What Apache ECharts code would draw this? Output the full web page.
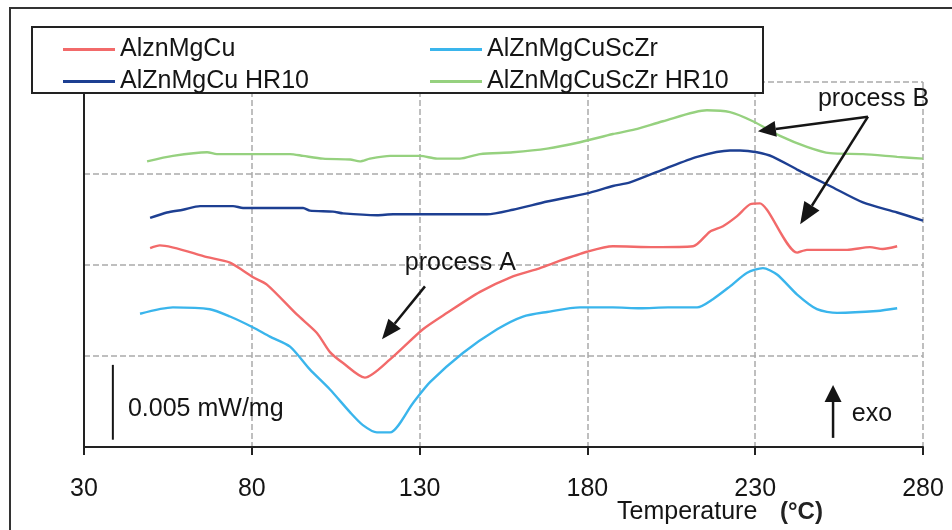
<!DOCTYPE html>
<html>
<head>
<meta charset="utf-8">
<script src="https://cdn.jsdelivr.net/npm/echarts@6/dist/echarts.min.js"></script>
<style>
  html, body { margin: 0; padding: 0; background: #fff; }
  #chart { width: 952px; height: 530px; }
</style>
</head>
<body>
<div id="chart"></div>
<script>
// axis
const xTicks = [30, 80, 130, 180, 230, 280];
const seriesNames = ['AlznMgCu', 'AlZnMgCuScZr', 'AlZnMgCu HR10', 'AlZnMgCuScZr HR10'];
const seriesColors = ['#f26a6a', '#3ab5ec', '#1d3f92', '#96d17f'];

// signals, in grid units (one dashed grid step = 1)
const tempRed = [49.7, 52.6, 66.7, 73.5, 80.4, 84.5, 93.5, 99.4, 103.3, 107.2, 113.7, 121.2, 131.0, 138.2, 148.0, 157.8, 165.0, 170.9, 179.9, 187.6, 200.0, 211.5, 216.5, 220.4, 224.6, 228.5, 231.4, 233.5, 242.5, 245.4, 257.4, 264.2, 268.0, 272.3];
const valRed  = [2.18, 2.21, 2.08, 2.02, 1.86, 1.78, 1.45, 1.25, 1.04, 0.92, 0.76, 0.96, 1.29, 1.47, 1.70, 1.87, 1.95, 2.03, 2.14, 2.20, 2.19, 2.20, 2.36, 2.42, 2.53, 2.66, 2.67, 2.60, 2.13, 2.16, 2.16, 2.19, 2.17, 2.20];

const tempBlue = [46.7, 56.5, 67.5, 73.5, 80.4, 85.4, 91.4, 97.3, 103.3, 109.3, 113.1, 117.3, 121.2, 128.0, 133.1, 142.9, 153.1, 160.8, 168.0, 177.8, 187.6, 195.7, 204.0, 212.7, 217.4, 222.5, 227.6, 232.3, 236.5, 242.5, 248.4, 254.4, 266.3, 272.3];
const valBlue  = [1.46, 1.53, 1.51, 1.43, 1.31, 1.21, 1.10, 0.85, 0.63, 0.38, 0.24, 0.16, 0.16, 0.48, 0.71, 1.03, 1.29, 1.43, 1.48, 1.53, 1.53, 1.52, 1.53, 1.53, 1.62, 1.76, 1.91, 1.96, 1.89, 1.67, 1.51, 1.47, 1.49, 1.52];

const tempNavy = [49.7, 54.7, 59.5, 64.6, 74.4, 77.4, 95.3, 97.3, 104.2, 107.2, 117.3, 122.1, 150.1, 157.8, 168.0, 179.9, 187.6, 192.7, 202.5, 212.7, 222.5, 225.5, 230.5, 235.3, 242.5, 252.3, 262.1, 272.3, 280.0];
const valNavy  = [2.51, 2.57, 2.60, 2.64, 2.64, 2.62, 2.62, 2.59, 2.58, 2.56, 2.54, 2.55, 2.55, 2.60, 2.69, 2.78, 2.86, 2.90, 3.04, 3.18, 3.25, 3.25, 3.23, 3.18, 3.04, 2.86, 2.68, 2.57, 2.48];

const tempGreen = [48.8, 56.5, 66.7, 69.6, 91.4, 95.3, 101.2, 109.3, 112.2, 115.2, 121.2, 130.1, 135.2, 142.0, 148.0, 157.8, 168.0, 177.8, 187.6, 194.2, 202.5, 215.6, 222.5, 229.3, 237.4, 245.4, 252.3, 262.1, 272.3, 280.0];
const valGreen  = [3.13, 3.19, 3.23, 3.21, 3.21, 3.19, 3.16, 3.15, 3.13, 3.16, 3.19, 3.19, 3.16, 3.16, 3.21, 3.23, 3.27, 3.34, 3.43, 3.48, 3.57, 3.69, 3.67, 3.57, 3.41, 3.29, 3.22, 3.21, 3.18, 3.16];

// annotations (data coordinates)
const arrowA = [[131.6, 1.76], [118.8, 1.18]];
const arrowB1 = [[263.6, 3.62], [230.8, 3.46]];
const arrowB2 = [[263.6, 3.62], [243.4, 2.44]];
const arrowExo = [[253.2, 0.10], [253.2, 0.68]];
const scaleBar = [[38.6, 0.90], [38.6, 0.08]];

const font = 'Liberation Sans, Arial, sans-serif';
const ink = '#151515';

function zip(xs, ys) {
  return xs.map((x, i) => [x, ys[i]]);
}

const seriesData = [zip(tempRed, valRed), zip(tempBlue, valBlue), zip(tempNavy, valNavy), zip(tempGreen, valGreen)];

const chart = echarts.init(document.getElementById('chart'));

const legendBase = {
  orient: 'vertical',
  top: 32,
  icon: 'rect',
  itemWidth: 52,
  itemHeight: 3,
  itemGap: 7,
  textStyle: { fontSize: 25, color: ink, fontFamily: font }
};

chart.setOption({
  animation: false,
  backgroundColor: '#fff',
  grid: { left: 84, right: 29, top: 82, bottom: 83 },
  legend: [
    { ...legendBase, left: 58, data: [seriesNames[0], seriesNames[2]] },
    { ...legendBase, left: 425, data: [seriesNames[1], seriesNames[3]] }
  ],
  xAxis: {
    type: 'value',
    min: xTicks[0],
    max: xTicks[xTicks.length - 1],
    interval: 50,
    axisLine: { lineStyle: { color: '#222', width: 2 } },
    axisTick: { show: true, length: 8, lineStyle: { color: '#222', width: 2 } },
    axisLabel: { fontSize: 25, color: ink, fontFamily: font, margin: 30 },
    splitLine: { show: true, lineStyle: { color: '#aaa', type: 'dashed', width: 1.5 } }
  },
  yAxis: {
    type: 'value',
    min: 0,
    max: 4,
    interval: 1,
    axisLine: { show: true, lineStyle: { color: '#222', width: 2 } },
    axisTick: { show: false },
    axisLabel: { show: false },
    splitLine: { show: true, lineStyle: { color: '#aaa', type: 'dashed', width: 1.5 } }
  },
  series: seriesNames.map((name, i) => ({
    name,
    type: 'line',
    data: seriesData[i],
    showSymbol: false,
    smooth: 0.25,
    lineStyle: { color: seriesColors[i], width: 2.4 },
    itemStyle: { color: seriesColors[i] }
  }))
});

// arrows & texts are placed after layout, from data coords
function px(p) {
  return chart.convertToPixel({ gridIndex: 0 }, p);
}

function arrow(from, to, len, half) {
  const a = px(from), b = px(to);
  const dx = b[0] - a[0], dy = b[1] - a[1];
  const d = Math.hypot(dx, dy);
  const ux = dx / d, uy = dy / d;
  const bx = b[0] - ux * len, by = b[1] - uy * len;
  return [
    { type: 'line', z: 5, shape: { x1: a[0], y1: a[1], x2: bx, y2: by }, style: { stroke: ink, lineWidth: 2.5 } },
    { type: 'polygon', z: 5, shape: { points: [b, [bx - uy * half, by + ux * half], [bx + uy * half, by - ux * half]] }, style: { fill: ink } }
  ];
}

function label(text, at, size) {
  const p = px(at);
  return {
    type: 'text', z: 5, x: p[0], y: p[1],
    style: { text, fontSize: size, fill: ink, fontFamily: font, verticalAlign: 'middle', align: 'left' }
  };
}

const sb0 = px(scaleBar[0]), sb1 = px(scaleBar[1]);

chart.setOption({
  graphic: [
    { type: 'rect', z: 0, shape: { x: 10, y: 8, width: 1000, height: 600 }, style: { fill: 'none', stroke: '#333', lineWidth: 2 } },
    { type: 'rect', z: 3, shape: { x: 32, y: 27, width: 731, height: 66 }, style: { fill: '#fff', stroke: '#222', lineWidth: 2 } },
    ...arrow(arrowA[0], arrowA[1], 20, 8),
    ...arrow(arrowB1[0], arrowB1[1], 18, 8),
    ...arrow(arrowB2[0], arrowB2[1], 22, 9),
    ...arrow(arrowExo[0], arrowExo[1], 17, 8.5),
    { type: 'line', z: 5, shape: { x1: sb0[0], y1: sb0[1], x2: sb1[0], y2: sb1[1] }, style: { stroke: ink, lineWidth: 2 } },
    label('process A', [125.6, 2.02], 25),
    label('process B', [248.7, 3.81], 25),
    label('0.005 mW/mg', [43.1, 0.41], 25),
    label('exo', [258.8, 0.36], 25),
    {
      type: 'text', z: 5, x: 617, y: 512,
      style: { text: 'Temperature', fontSize: 25, fill: ink, fontFamily: font, verticalAlign: 'middle' }
    },
    {
      type: 'text', z: 5, x: 780, y: 512,
      style: { text: '(°C)', fontSize: 24, fontWeight: 'bold', fill: '#222', fontFamily: font, verticalAlign: 'middle' }
    }
  ]
});
</script>
</body>
</html>
